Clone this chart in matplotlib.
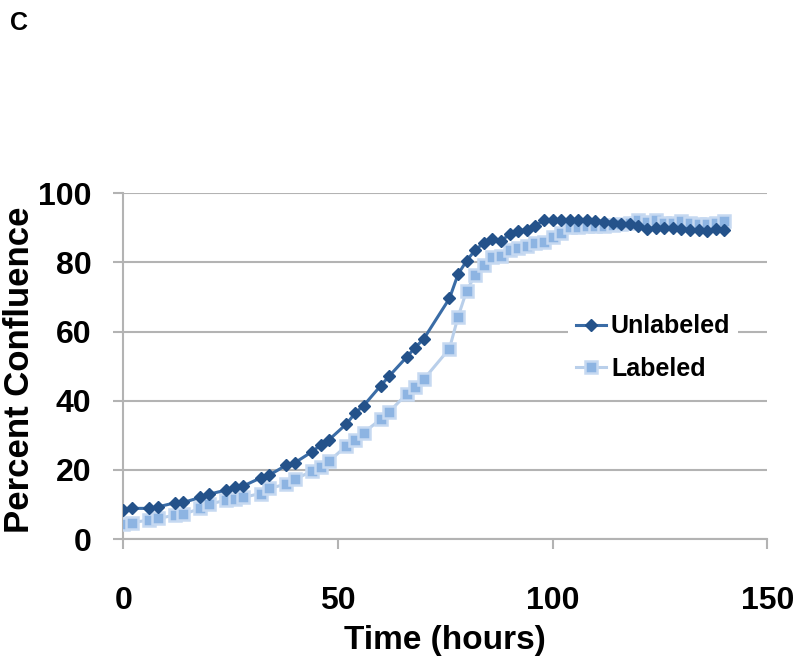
import numpy as np
import matplotlib
matplotlib.use("Agg")
import matplotlib.pyplot as plt

plt.rcParams['font.family'] = ['Liberation Sans', 'DejaVu Sans']
plt.rcParams['font.weight'] = 'bold'

# time points (hours)
hours = [0, 2, 6, 8, 12, 14, 18, 20, 24, 26, 28, 32, 34, 38, 40, 44, 46, 48,
         52, 54, 56, 60, 62, 66, 68, 70, 76, 78, 80, 82, 84, 86, 88, 90, 92,
         94, 96, 98, 100, 102, 104, 106, 108, 110, 112, 114, 116, 118, 120,
         122, 124, 126, 128, 130, 132, 134, 136, 138, 140]

unlabeled = [8.4, 8.9, 8.9, 9.3, 10.5, 10.6, 12.1, 13.0, 14.2, 15.1, 15.4,
             17.7, 18.5, 21.4, 22.1, 25.3, 27.2, 28.8, 33.3, 36.4, 38.6, 44.4,
             47.2, 52.6, 55.4, 57.9, 69.6, 76.6, 80.5, 83.6, 85.6, 86.8, 86.1,
             88.2, 89.2, 89.4, 90.6, 92.2, 92.4, 92.3, 92.4, 92.3, 92.2, 92.0,
             91.8, 91.5, 91.2, 91.0, 90.4, 89.7, 90.0, 89.9, 89.9, 89.8, 89.5,
             89.3, 89.2, 89.8, 89.4]

labeled = [4.5, 4.8, 5.5, 6.0, 6.9, 7.2, 8.9, 10.1, 11.3, 11.6, 12.1, 13.2,
           14.7, 15.9, 17.3, 19.7, 20.9, 22.6, 27.0, 28.6, 30.8, 34.7, 36.9,
           41.9, 44.1, 46.2, 55.1, 64.3, 71.8, 76.4, 79.2, 81.7, 81.8, 83.6,
           84.1, 84.6, 85.5, 86.0, 87.4, 88.4, 90.3, 90.3, 90.4, 90.4, 90.6,
           90.8, 91.0, 91.3, 92.3, 91.8, 92.3, 91.5, 91.5, 92.1, 91.3, 91.1,
           91.1, 91.5, 92.1]

fig = plt.figure(figsize=(8, 6.64), dpi=100)
ax = fig.add_axes([0.154, 0.188, 0.805, 0.521])

ax.plot(hours, labeled, color='#b9cfea', lw=2.2, marker='s', ms=8,
        mfc='#8db4e2', mec='#c6d9f1', mew=1.8, label='Labeled', zorder=3)
ax.plot(hours, unlabeled, color='#3a6ca6', lw=2.2, marker='D', ms=6.5,
        mfc='#24528a', mec='#24528a', label='Unlabeled', zorder=4)

ax.set_xlim(0, 150)
ax.set_ylim(0, 100)
ax.set_xticks([0, 50, 100, 150])
ax.set_yticks([0, 20, 40, 60, 80, 100])
ax.yaxis.grid(True, color='#b3b3b3', lw=1.5)
ax.set_axisbelow(True)
for s in ['top', 'right']:
    ax.spines[s].set_visible(False)
for s in ['left', 'bottom']:
    ax.spines[s].set_color('#b3b3b3')
    ax.spines[s].set_linewidth(1.5)
ax.tick_params(axis='both', colors='#b3b3b3', length=7, width=1.5,
               labelcolor='black', labelsize=23)
ax.tick_params(axis='x', pad=27)
ax.tick_params(axis='y', pad=16)
for lab in ax.get_xticklabels() + ax.get_yticklabels():
    lab.set_fontweight('bold')

ax.set_xlabel('Time (hours)', fontsize=24, fontweight='bold', labelpad=6)
ax.set_ylabel('Percent Confluence', fontsize=25, fontweight='bold')
ax.yaxis.set_label_coords(-0.136, 0.49)

h, l = ax.get_legend_handles_labels()
leg = ax.legend(h[::-1], l[::-1], loc='center left',
                bbox_to_anchor=(0.672, 0.553), frameon=True,
                prop={'size': 18, 'weight': 'bold'}, handlelength=1.2,
                handletextpad=0.2, labelspacing=0.75, borderpad=0.3)
leg.get_frame().set_facecolor('white')
leg.get_frame().set_edgecolor('none')
leg.get_frame().set_alpha(1)

fig.text(0.012, 0.966, 'C', fontsize=18, fontweight='bold', va='center')

fig.savefig('out.png', dpi=100)
